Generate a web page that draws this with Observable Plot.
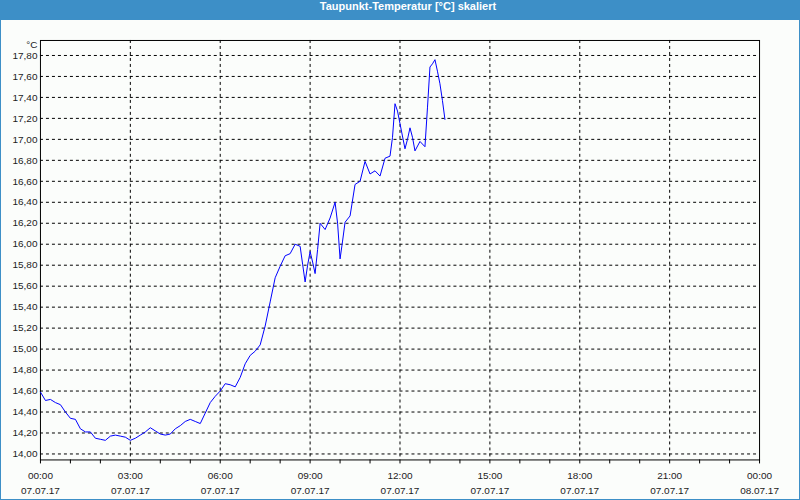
<!DOCTYPE html>
<html>
<head>
<meta charset="utf-8">
<script src="https://cdn.jsdelivr.net/npm/d3@7"></script>
<script src="https://cdn.jsdelivr.net/npm/@observablehq/plot@0.6"></script>
<style>
  html, body { margin: 0; padding: 0; background: #ffffff; }
  #win { position: relative; width: 800px; height: 500px; box-sizing: border-box;
         border: 1px solid #3d8fc7; border-top: none; background: #fbfdfb; overflow: hidden; }
  #title { height: 20px; line-height: 20px; background: #3d8fc7; color: #ffffff;
           font: bold 11px "Liberation Sans", Arial, sans-serif; text-align: center; margin: 0 -1px; padding-left: 16px; }
  #chart { position: absolute; left: -1px; top: 20px; }
</style>
</head>
<body>
<div id="win">
  <div id="title">Taupunkt-Temperatur [°C] skaliert</div>
  <div id="chart"></div>
</div>
<script>
const times = ["00:00","00:10","00:20","00:30","00:40","00:50","01:00","01:10","01:20","01:30","01:40","01:50",
  "02:00","02:10","02:20","02:30","02:40","02:50","03:00","03:10","03:20","03:30","03:40","03:50",
  "04:00","04:10","04:20","04:30","04:40","04:50","05:00","05:10","05:20","05:30","05:40","05:50",
  "06:00","06:10","06:20","06:30","06:40","06:50","07:00","07:10","07:20","07:30","07:40","07:50",
  "08:00","08:10","08:20","08:30","08:40","08:45","08:50","08:55","09:00","09:05","09:10","09:15",
  "09:20","09:30","09:40","09:50","09:55","10:00","10:05","10:10","10:20","10:30","10:40","10:50",
  "11:00","11:10","11:20","11:30","11:40","11:45","11:50","11:55","12:00","12:10","12:15","12:20",
  "12:25","12:30","12:40","12:50","12:55","13:00","13:05","13:10","13:15","13:20","13:25","13:30"];
const dewpoint = [14.59,14.51,14.52,14.49,14.47,14.40,14.34,14.33,14.24,14.21,14.21,14.15,
  14.14,14.13,14.17,14.18,14.17,14.16,14.13,14.15,14.18,14.21,14.25,14.22,
  14.19,14.18,14.19,14.24,14.27,14.31,14.33,14.31,14.29,14.39,14.49,14.55,
  14.60,14.67,14.66,14.64,14.73,14.86,14.94,14.98,15.04,15.22,15.45,15.68,
  15.79,15.89,15.91,16.00,15.98,15.81,15.64,15.80,15.93,15.83,15.72,15.95,
  16.20,16.14,16.25,16.40,16.20,15.86,16.03,16.21,16.27,16.57,16.60,16.79,
  16.67,16.70,16.65,16.82,16.84,17.02,17.34,17.27,17.15,16.91,17.00,17.11,
  17.02,16.89,16.98,16.93,17.30,17.69,17.72,17.76,17.65,17.53,17.37,17.19];
const yTicks = [14.0,14.2,14.4,14.6,14.8,15.0,15.2,15.4,15.6,15.8,16.0,16.2,16.4,16.6,16.8,17.0,17.2,17.4,17.6,17.8];
const xMajorHours = [0,3,6,9,12,15,18,21,24];
const xMinorHours = [1,2,4,5,7,8,10,11,13,14,16,17,19,20,22,23];
const yUnit = "°C";

const toDate = (h, m) => new Date(Date.UTC(2017, 6, 7, h, m));
const data = times.map((t, i) => {
  const [h, m] = t.split(":").map(Number);
  return {date: toDate(h, m), value: dewpoint[i]};
});
const majorTicks = xMajorHours.map(h => toDate(h, 0));
const minorTicks = xMinorHours.map(h => toDate(h, 0));
const pad = n => String(n).padStart(2, "0");
const fmtX = d => `${pad(d.getUTCHours())}:${pad(d.getUTCMinutes())}\n${pad(d.getUTCDate())}.${pad(d.getUTCMonth()+1)}.${String(d.getUTCFullYear()).slice(2)}`;
const fmtY = v => v.toFixed(2).replace(".", ",");
const innerMajor = majorTicks.slice(1, -1);

const chart = Plot.plot({
  width: 800,
  height: 480,
  marginLeft: 40,
  marginRight: 40,
  marginTop: 20,
  marginBottom: 40,
  style: {fontFamily: "Liberation Sans, Arial, sans-serif", fontSize: "10px", color: "#1b1b1b", background: "transparent", overflow: "visible"},
  x: {type: "utc", domain: [toDate(0, 0), toDate(24, 0)]},
  y: {domain: [13.943, 17.943]},
  marks: [
    Plot.gridY(yTicks, {stroke: "#000", strokeOpacity: 1, strokeDasharray: "3,3", strokeWidth: 1}),
    Plot.gridX(innerMajor, {stroke: "#000", strokeOpacity: 1, strokeDasharray: "3,3", strokeWidth: 1}),
    Plot.axisY(yTicks, {tickSize: 0, tickPadding: 3, tickFormat: fmtY, label: null, fill: "#1b1b1b"}),
    Plot.axisX(majorTicks, {tickSize: 4, tickPadding: 4, tickFormat: fmtX, label: null, lineHeight: 1.55, fill: "#1b1b1b", stroke: "#000"}),
    Plot.axisX(minorTicks, {tickSize: 4, tickFormat: null, text: null, label: null, stroke: "#000"}),
    Plot.text([yUnit], {frameAnchor: "top-left", dx: -3, dy: 4, textAnchor: "end", lineAnchor: "middle", fill: "#1b1b1b"}),
    Plot.frame({stroke: "#000"}),
    Plot.line(data, {x: "date", y: "value", stroke: "#0000ff", strokeWidth: 1})
  ]
});
document.getElementById("chart").appendChild(chart);
</script>
</body>
</html>
